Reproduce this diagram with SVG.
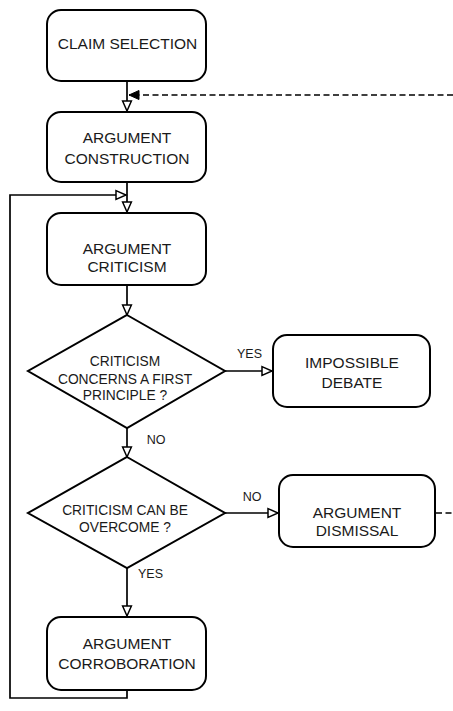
<svg xmlns="http://www.w3.org/2000/svg" width="453" height="711" viewBox="0 0 453 711">
  <defs>
    <style>
      .box { fill: #ffffff; stroke: #000000; stroke-width: 2; }
      .dia { fill: #ffffff; stroke: #000000; stroke-width: 2; }
      .txt { font-family: "Liberation Sans", Arial, sans-serif; font-size: 15.5px; fill: #1a1a1a; text-anchor: middle; }
      .dtxt { font-family: "Liberation Sans", Arial, sans-serif; font-size: 13.8px; fill: #1a1a1a; text-anchor: middle; }
      .lbl { font-family: "Liberation Sans", Arial, sans-serif; font-size: 12.5px; fill: #1a1a1a; text-anchor: middle; }
      .wire { fill: none; stroke: #000000; stroke-width: 1.7; }
      .dash { fill: none; stroke: #000000; stroke-width: 1.7; stroke-dasharray: 6 3.5; }
    </style>
    <marker id="hollow" viewBox="0 0 10 10" refX="10" refY="5" markerWidth="10" markerHeight="10" orient="auto" markerUnits="userSpaceOnUse" overflow="visible">
      <path d="M0,0.6 L10,5 L0,9.4 z" fill="#ffffff" stroke="#000000" stroke-width="1.5" stroke-linejoin="miter"/>
    </marker>
    <marker id="solid" viewBox="0 0 10 10" refX="10" refY="5" markerWidth="10" markerHeight="10" orient="auto" markerUnits="userSpaceOnUse" overflow="visible">
      <path d="M0,0.5 L10,5 L0,9.5 z" fill="#000000" stroke="#000000" stroke-width="1"/>
    </marker>
  </defs>

  <rect width="453" height="711" fill="#ffffff"/>

  <!-- connectors -->
  <g id="connectors">
    <path class="wire" d="M127,81 V111" marker-end="url(#hollow)"/>
    <path class="dash" d="M453,95 H129" marker-end="url(#solid)"/>
    <path class="wire" d="M127,182 V212" marker-end="url(#hollow)"/>
    <path class="wire" d="M127,690 V698 H10 V195 H126" marker-end="url(#hollow)"/>
    <path class="wire" d="M127,285 V315" marker-end="url(#hollow)"/>
    <path class="wire" d="M225,371 H272" marker-end="url(#hollow)"/>
    <path class="wire" d="M127,428 V457" marker-end="url(#hollow)"/>
    <path class="wire" d="M225,513 H278" marker-end="url(#hollow)"/>
    <path class="wire" d="M127,568 V616" marker-end="url(#hollow)"/>
    <path class="dash" d="M436,513 H453"/>
    <text class="lbl" x="249.5" y="357.5">YES</text>
    <text class="lbl" x="156" y="443.5">NO</text>
    <text class="lbl" x="252" y="501">NO</text>
    <text class="lbl" x="150.5" y="577.5">YES</text>
  </g>

  <g id="claim-selection">
    <rect class="box" x="47" y="10" width="159" height="71" rx="14"/>
    <text class="txt" x="127.5" y="49">CLAIM SELECTION</text>
  </g>

  <g id="argument-construction">
    <rect class="box" x="47" y="112" width="159" height="70" rx="14"/>
    <text class="txt" x="127" y="142.5">ARGUMENT</text>
    <text class="txt" x="127" y="163.5">CONSTRUCTION</text>
  </g>

  <g id="argument-criticism">
    <rect class="box" x="47" y="213" width="159" height="72" rx="14"/>
    <text class="txt" x="127" y="253.5">ARGUMENT</text>
    <text class="txt" x="127" y="272">CRITICISM</text>
  </g>

  <g id="first-principle">
    <polygon class="dia" points="127,315 225,371 127,428 28,371"/>
    <text class="dtxt" x="125" y="366">CRITICISM</text>
    <text class="dtxt" x="125" y="383.5">CONCERNS A FIRST</text>
    <text class="dtxt" x="125" y="400">PRINCIPLE ?</text>
  </g>

  <g id="impossible-debate">
    <rect class="box" x="273" y="335" width="157" height="72" rx="14"/>
    <text class="txt" x="352" y="367.5">IMPOSSIBLE</text>
    <text class="txt" x="352" y="387.5">DEBATE</text>
  </g>

  <g id="can-be-overcome">
    <polygon class="dia" points="127,457 225,513 127,568 28,513"/>
    <text class="dtxt" x="125" y="515">CRITICISM CAN BE</text>
    <text class="dtxt" x="125" y="532">OVERCOME ?</text>
  </g>

  <g id="argument-dismissal">
    <rect class="box" x="279" y="475" width="156" height="72" rx="14"/>
    <text class="txt" x="357" y="517.5">ARGUMENT</text>
    <text class="txt" x="357" y="535.5">DISMISSAL</text>
  </g>

  <g id="argument-corroboration">
    <rect class="box" x="47" y="617" width="159" height="73" rx="14"/>
    <text class="txt" x="127" y="648.5">ARGUMENT</text>
    <text class="txt" x="127" y="668.5">CORROBORATION</text>
  </g>
</svg>
